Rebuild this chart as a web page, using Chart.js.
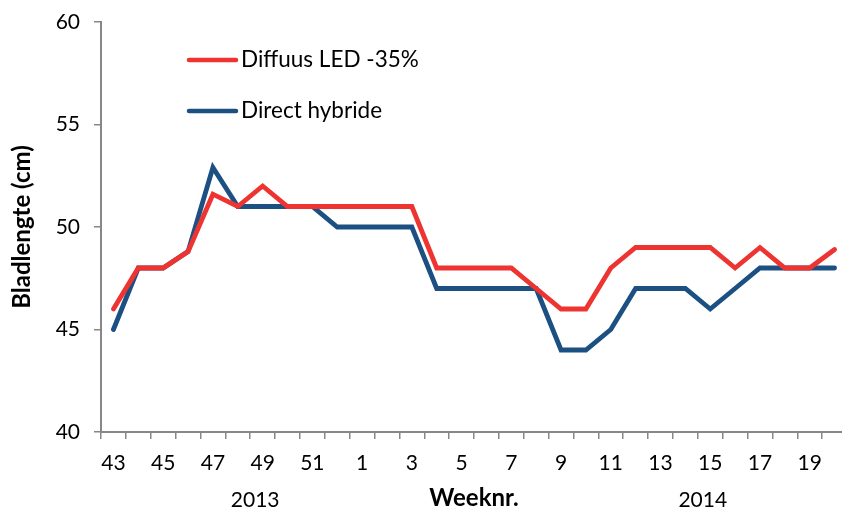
<!DOCTYPE html>
<html>
<head>
<meta charset="utf-8">
<script src="https://cdn.jsdelivr.net/npm/chart.js@4.4.1/dist/chart.umd.min.js"></script>
<style>
    html, body { margin: 0; padding: 0; background: #fff; overflow: hidden; }
    #wrap { width: 850px; height: 513px; }
</style>
</head>
<body>
<div id="wrap"><canvas id="lineChart" width="850" height="513"></canvas></div>
<script>
// Week numbers (2013: 43-52, 2014: 1-20)
const weeks = [43, 44, 45, 46, 47, 48, 49, 50, 51, 52,
    1, 2, 3, 4, 5, 6, 7, 8, 9, 10, 11, 12, 13, 14, 15, 16, 17, 18, 19, 20];

// Blade length (cm)
const diffuusLed = [46, 48, 48, 48.8, 51.6, 51, 52, 51, 51, 51,
    51, 51, 51, 48, 48, 48, 48, 47, 46, 46, 48, 49, 49, 49, 49, 48, 49, 48, 48, 48.9];
const directHybride = [45, 48, 48, 48.8, 52.9, 51, 51, 51, 51, 50,
    50, 50, 50, 47, 47, 47, 47, 47, 44, 44, 45, 47, 47, 47, 46, 47, 48, 48, 48, 48];

const yTicks = [40, 45, 50, 55, 60];
const yearLabels = [{ text: '2013', at: 5.7 }, { text: '2014', at: 23.7 }];

const fontFamily = 'Lato, "Open Sans", sans-serif';
const axisGrey = '#878787';

// Legend drawn inside the plot area, top left
const innerLegend = {
    id: 'innerLegend',
    afterDraw(chart) {
        const ctx = chart.ctx;
        const rows = [60, 111];
        ctx.save();
        chart.data.datasets.forEach((ds, i) => {
            const y = rows[i];
            ctx.strokeStyle = ds.borderColor;
            ctx.lineWidth = 4.5;
            ctx.lineCap = 'round';
            ctx.beginPath();
            ctx.moveTo(189, y);
            ctx.lineTo(236, y);
            ctx.stroke();
            ctx.fillStyle = '#000';
            ctx.font = '22.5px ' + fontFamily;
            ctx.textBaseline = 'middle';
            ctx.textAlign = 'left';
            ctx.fillText(ds.label, 241, y);
        });
        ctx.restore();
    }
};

// Year labels under the week numbers
const yearRow = {
    id: 'yearRow',
    afterDraw(chart) {
        const ctx = chart.ctx;
        const xScale = chart.scales.x;
        ctx.save();
        ctx.fillStyle = '#000';
        ctx.font = '21px ' + fontFamily;
        ctx.textAlign = 'center';
        ctx.textBaseline = 'middle';
        yearLabels.forEach(l => {
            ctx.fillText(l.text, xScale.getPixelForValue(l.at), 500);
        });
        ctx.restore();
    }
};

const ctx = document.getElementById('lineChart').getContext('2d');
const lineChart = new Chart(ctx, {
    type: 'line',
    data: {
        labels: weeks,
        datasets: [{
            label: 'Diffuus LED -35%',
            data: diffuusLed,
            borderColor: '#ee3431',
            borderWidth: 4.8,
            pointRadius: 0,
            tension: 0,
            borderCapStyle: 'round'
        }, {
            label: 'Direct hybride',
            data: directHybride,
            borderColor: '#1c5083',
            borderWidth: 4.8,
            pointRadius: 0,
            tension: 0,
            borderCapStyle: 'round'
        }]
    },
    options: {
        responsive: false,
        animation: false,
        layout: { padding: { top: 22, right: 3, left: 0, bottom: 0 } },
        plugins: {
            legend: { display: false },
            tooltip: { enabled: false }
        },
        scales: {
            x: {
                offset: true,
                grid: {
                    offset: true,
                    drawOnChartArea: false,
                    drawTicks: true,
                    tickLength: 7,
                    color: axisGrey,
                    lineWidth: 1.5
                },
                border: { color: axisGrey, width: 2 },
                ticks: {
                    autoSkip: false,
                    maxRotation: 0,
                    color: '#000',
                    padding: 12,
                    font: { family: fontFamily, size: 21 },
                    callback: function (value, index) {
                        return index % 2 === 0 ? this.getLabelForValue(value) : '';
                    }
                },
                title: {
                    display: true,
                    text: 'Weeknr.',
                    color: '#000',
                    font: { family: fontFamily, size: 24, weight: 'bold' },
                    padding: { top: 4, bottom: 0 }
                },
                afterFit: s => {
                    s.height = 81;
                    s.paddingLeft = 0;
                    s.paddingRight = 0;
                }
            },
            y: {
                min: 40,
                max: 60,
                afterBuildTicks: s => { s.ticks = yTicks.map(v => ({ value: v })); },
                grid: {
                    drawOnChartArea: false,
                    tickLength: 7,
                    color: axisGrey,
                    lineWidth: 1.5
                },
                border: { color: axisGrey, width: 2 },
                ticks: {
                    color: '#000',
                    padding: 14,
                    font: { family: fontFamily, size: 21 }
                },
                title: {
                    display: true,
                    text: 'Bladlengte (cm)',
                    color: '#000',
                    font: { family: fontFamily, size: 24, weight: 'bold' },
                    padding: { top: 8, bottom: 0 }
                },
                afterFit: s => {
                    s.width = 101;
                    s.paddingTop = 0;
                    s.paddingBottom = 0;
                }
            }
        }
    },
    plugins: [innerLegend, yearRow]
});
</script>
</body>
</html>
